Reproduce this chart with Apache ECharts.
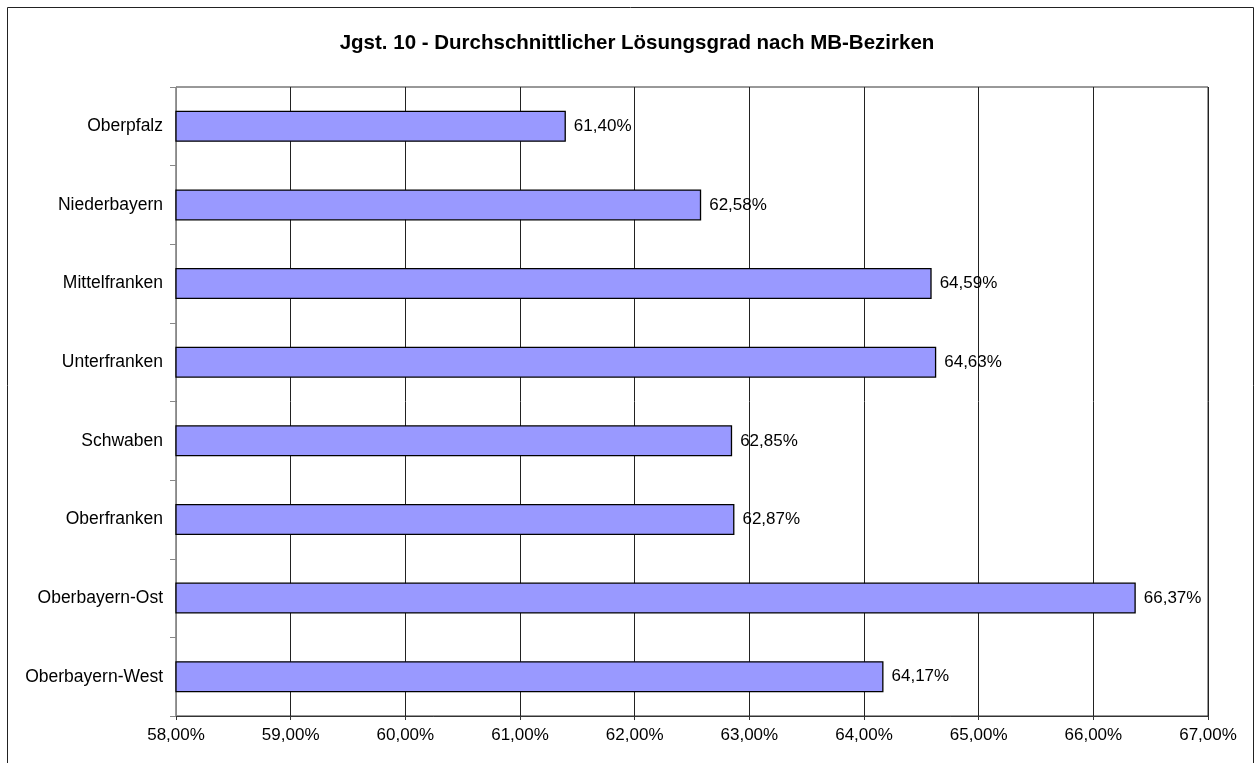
<!DOCTYPE html>
<html>
<head>
<meta charset="utf-8">
<script src="https://cdn.jsdelivr.net/npm/echarts@6/dist/echarts.min.js"></script>
<style>
  html, body { margin: 0; padding: 0; background: #fff; }
  #chart { width: 1255px; height: 763px; }
</style>
</head>
<body>
<div id="chart"></div>
<script>
// von unten nach oben (Kategorieachse beginnt unten)
const bezirke = ['Oberbayern-West', 'Oberbayern-Ost', 'Oberfranken', 'Schwaben', 'Unterfranken', 'Mittelfranken', 'Niederbayern', 'Oberpfalz']
const loesungsgrad = [64.17, 66.37, 62.87, 62.85, 64.63, 64.59, 62.58, 61.40]

const fmt = (v) => v.toFixed(2).replace('.', ',') + '%'

const chart = echarts.init(document.getElementById('chart'))

const option = {
  animation: false,
  textStyle: { fontFamily: 'Liberation Sans, Arial, sans-serif' },
  title: {
    text: 'Jgst. 10 - Durchschnittlicher Lösungsgrad nach MB-Bezirken',
    left: 632,
    textAlign: 'center',
    top: 28,
    textStyle: { fontSize: 20.5, fontWeight: 'bold', color: '#000' }
  },
  graphic: [
    {
      type: 'rect',
      shape: { x: 7.5, y: 7.5, width: 1246, height: 800 },
      style: { fill: 'none', stroke: '#222', lineWidth: 1 },
      silent: true
    }
  ],
  grid: {
    left: 176,
    top: 87,
    right: 47,
    bottom: 47,
    show: true,
    borderColor: '#333',
    borderWidth: 1
  },
  xAxis: {
    type: 'value',
    min: 58,
    max: 67,
    interval: 1,
    axisLine: { show: true, lineStyle: { color: '#333' } },
    axisTick: { show: true, length: 4, lineStyle: { color: '#333' } },
    axisLabel: {
      fontSize: 17,
      color: '#000',
      margin: 11,
      formatter: fmt
    },
    splitLine: { show: true, lineStyle: { color: '#222', width: 1 } }
  },
  yAxis: {
    type: 'category',
    data: bezirke,
    axisLine: { show: true, lineStyle: { color: '#888' } },
    axisTick: { show: true, length: 6, lineStyle: { color: '#888' } },
    axisLabel: { fontSize: 17.5, color: '#000', margin: 13 }
  },
  series: [
    {
      type: 'bar',
      data: loesungsgrad,
      barWidth: 31,
      itemStyle: {
        color: '#9999ff',
        borderColor: '#000',
        borderWidth: 1.3
      },
      label: {
        show: true,
        position: 'right',
        distance: 8,
        fontSize: 17,
        color: '#000',
        formatter: (p) => fmt(p.value)
      }
    }
  ]
}

chart.setOption(option)
</script>
</body>
</html>
